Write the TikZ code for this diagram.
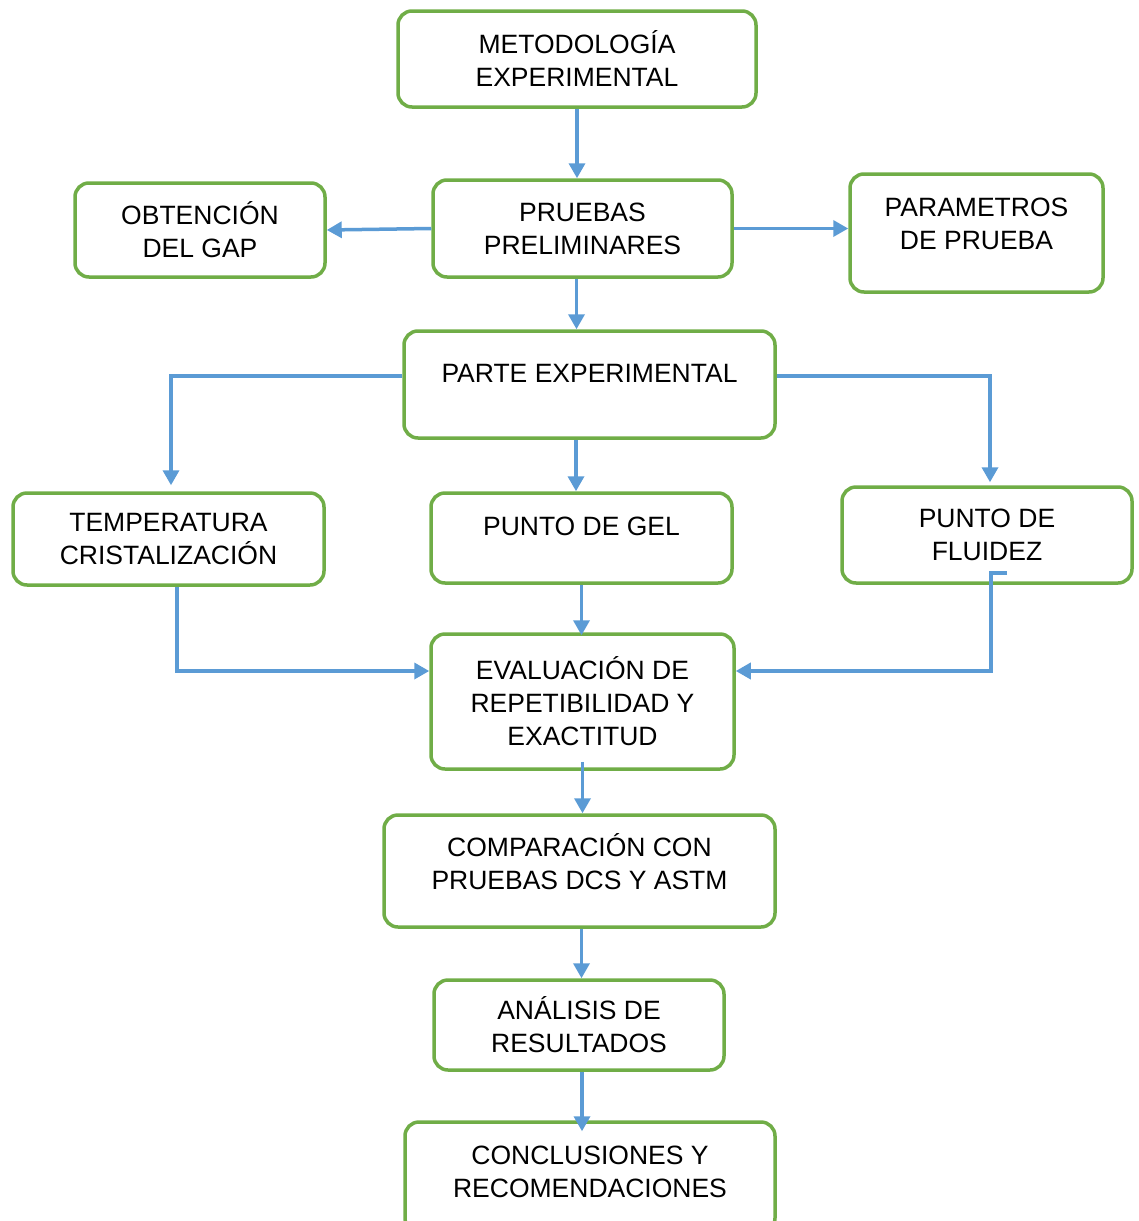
\documentclass[tikz,border=0pt]{standalone}
\usepackage{fontspec}
\setmainfont{Liberation Sans}
\usetikzlibrary{positioning,arrows.meta,calc}
\definecolor{boxgreen}{HTML}{70AD47}
\definecolor{arrowblue}{HTML}{5B9BD5}
\newcommand{\lowpad}[1]{\rule[-#1]{0pt}{#1}}

\begin{document}
\begin{tikzpicture}[
x=1pt,y=-1pt,
every node/.style={draw=boxgreen,line width=3.5pt,rounded corners=14pt,align=center,
  font=\fontsize{26.5}{33}\selectfont,inner sep=0pt},
arr/.style={draw=arrowblue,line width=3.5pt,-{Triangle[length=15pt,width=16pt]}},
]
\useasboundingbox (0,0) rectangle (1139,1221);

\node[minimum width=358pt,minimum height=96pt] (met) at (577,59) {METODOLOGÍA\\EXPERIMENTAL};
\node[minimum width=299pt,minimum height=97pt] (pre) at (582.5,228.5) {PRUEBAS\\PRELIMINARES};
\node[minimum width=250pt,minimum height=94pt] (gap) at (200,230) {OBTENCIÓN\\DEL GAP};
\node[minimum width=253pt,minimum height=118pt] (par) at (976.5,233) {PARAMETROS\\DE PRUEBA\lowpad{19pt}};
\node[minimum width=371pt,minimum height=107pt] (exp) at (589.5,384.5) {PARTE EXPERIMENTAL\lowpad{22pt}};

\node[minimum width=311pt,minimum height=92pt] (tem) at (168.5,539) {TEMPERATURA\\CRISTALIZACIÓN};
\node[minimum width=301pt,minimum height=90pt] (gel) at (581.5,538) {PUNTO DE GEL\lowpad{24pt}};
\node[minimum width=290pt,minimum height=96pt] (flu) at (987,535) {PUNTO DE\\FLUIDEZ};

\node[minimum width=303pt,minimum height=135pt] (eva) at (582.5,701.5) {EVALUACIÓN DE\\REPETIBILIDAD Y\\EXACTITUD};
\node[minimum width=391pt,minimum height=112pt] (com) at (579.5,871) {COMPARACIÓN CON\\PRUEBAS DCS Y ASTM\lowpad{19pt}};
\node[minimum width=290pt,minimum height=90pt] (ana) at (579,1025) {ANÁLISIS DE\\RESULTADOS};
\node[minimum width=370pt,minimum height=110pt] (con) at (590,1177) {CONCLUSIONES Y\\RECOMENDACIONES\lowpad{11pt}};

\coordinate (flend) at (1007,573);

\draw[arr] (met.south) -- (met.south |- pre.north);
\draw[arr] (pre.west) -- (gap.east);
\draw[arr] (pre.east) -- (pre.east -| par.west);
\draw[arr] ([xshift=-6pt]pre.south) -- ([xshift=-6pt]pre.south |- exp.north);
\draw[arr] ([yshift=8.5pt]exp.west) -| ([xshift=2.5pt,yshift=6pt]tem.north);
\draw[arr] ([xshift=-5.5pt]gel.north |- exp.south) -- ([xshift=-5.5pt]gel.north);
\draw[arr] ([yshift=8.5pt]exp.east) -| ([xshift=3pt,yshift=3pt]flu.north);
\draw[arr] ([xshift=8.5pt]tem.south) |- ([yshift=30.5pt]eva.west);
\draw[arr] (gel.south) -- ([yshift=-3pt]gel.south |- eva.north);
\draw[arr] (flend) -- ++(-16,0) |- ([yshift=30.5pt]eva.east);
\draw[arr] ([yshift=9pt]eva.south) -- (eva.south |- com.north);
\draw[arr] ([xshift=2pt]com.south) -- ([xshift=2pt]com.south |- ana.north);
\draw[arr] ([xshift=3pt]ana.south) -- ([xshift=3pt,yshift=-11pt]ana.south |- con.north);

\end{tikzpicture}
\end{document}
